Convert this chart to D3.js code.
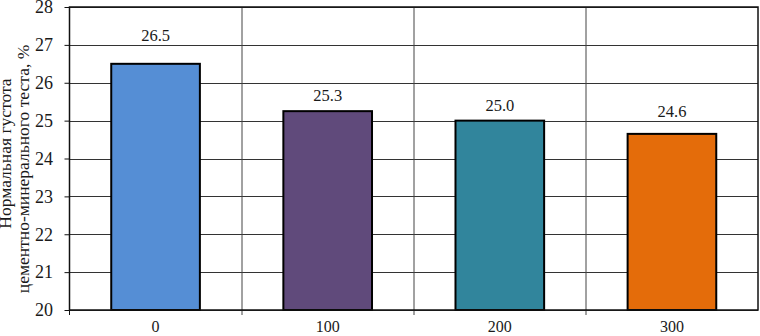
<!DOCTYPE html>
<html>
<head>
<meta charset="utf-8">
<script src="https://cdn.jsdelivr.net/npm/d3@7"></script>
<style>
  body { margin: 0; background: #fff; }
</style>
</head>
<body>
<div id="plot"></div>
<script>
// chart data
const categories = ["0", "100", "200", "300"];
const values = [26.5, 25.25, 25.0, 24.65];
const valueLabels = ["26.5", "25.3", "25.0", "24.6"];
const barColors = ["#558ed5", "#604a7b", "#31859c", "#e46c0a"];
const yTicks = [20, 21, 22, 23, 24, 25, 26, 27, 28];
const titleLines = ["Нормальная густота", "цементно-минерального теста, %"];

const serif = "\"Liberation Serif\"";

const width = 760, height = 336;
const margin = { top: 7, right: 2, bottom: 26, left: 69.5 };
const innerW = width - margin.left - margin.right;
const innerH = height - margin.top - margin.bottom;

const svg = d3.select("#plot").append("svg")
    .attr("width", width)
    .attr("height", height);

const g = svg.append("g")
    .attr("transform", `translate(${margin.left},${margin.top})`);

const x = d3.scaleBand()
    .domain(categories)
    .range([0, innerW])
    .paddingInner(0)
    .paddingOuter(0);

const y = d3.scaleLinear()
    .domain([20, 28])
    .range([innerH, 0]);

// horizontal gridlines
g.append("g")
    .selectAll("line")
    .data(yTicks)
    .enter()
    .append("line")
    .attr("x1", 0)
    .attr("x2", innerW)
    .attr("y1", d => Math.round(y(d)) + 0.5)
    .attr("y2", d => Math.round(y(d)) + 0.5)
    .style("stroke", "#333")
    .style("stroke-width", 1.2);

// vertical gridlines at category boundaries
g.append("g")
    .selectAll("line")
    .data(categories.slice(1))
    .enter()
    .append("line")
    .attr("x1", d => Math.round(x(d)) + 0.5)
    .attr("x2", d => Math.round(x(d)) + 0.5)
    .attr("y1", 0)
    .attr("y2", innerH + 5)
    .style("stroke", "#444")
    .style("stroke-width", 1);

// bars
const barW = x.bandwidth() * 0.515;
g.append("g")
    .selectAll("rect")
    .data(values)
    .enter()
    .append("rect")
    .attr("x", (d, i) => x(categories[i]) + (x.bandwidth() - barW) / 2)
    .attr("y", d => y(d))
    .attr("width", barW)
    .attr("height", d => innerH - y(d))
    .style("fill", (d, i) => barColors[i])
    .style("stroke", "#000")
    .style("stroke-width", 2);

// value labels: 10px above the bar, lifted above a gridline if they would cross it
function labelBaseline(v) {
    let base = y(v) - 10;
    const top = base - 12;
    yTicks.forEach(t => {
        const gy = y(t);
        if (gy > top && gy < base + 1) base = gy - 4;
    });
    return base;
}

g.append("g")
    .selectAll("text")
    .data(values)
    .enter()
    .append("text")
    .attr("x", (d, i) => x(categories[i]) + x.bandwidth() / 2)
    .attr("y", d => labelBaseline(d))
    .attr("text-anchor", "middle")
    .style("font-family", serif)
    .style("font-size", "16.5px")
    .style("fill", "#1a1a1a")
    .text((d, i) => valueLabels[i]);

// frame
g.append("rect")
    .attr("x", 0)
    .attr("y", 0)
    .attr("width", innerW)
    .attr("height", innerH)
    .style("fill", "none")
    .style("stroke", "#111")
    .style("stroke-width", 1.5);

// y axis
const yAxis = g.append("g")
    .call(d3.axisLeft(y).tickValues(yTicks).tickSize(5).tickPadding(11.5));
yAxis.select(".domain").remove();
yAxis.selectAll("line").style("stroke", "#111");
yAxis.selectAll("text")
    .style("font-size", "18px")
    .style("font-family", serif)
    .style("fill", "#1a1a1a");

// x axis labels
g.append("g")
    .selectAll("text")
    .data(categories)
    .enter()
    .append("text")
    .attr("x", d => x(d) + x.bandwidth() / 2)
    .attr("y", innerH + 22)
    .attr("text-anchor", "middle")
    .style("font-family", serif)
    .style("font-size", "16px")
    .style("fill", "#1a1a1a")
    .text(d => d);

// tick at the left bottom corner
g.append("line")
    .attr("x1", 0).attr("x2", 0)
    .attr("y1", innerH).attr("y2", innerH + 5)
    .style("stroke", "#111");

// y axis title: two rotated lines, each with its own centre
const titlePos = [[11, 153.5], [28.5, 169]];
svg.append("g")
    .selectAll("text")
    .data(titleLines)
    .enter()
    .append("text")
    .attr("transform", (d, i) => `translate(${titlePos[i][0]},${titlePos[i][1]}) rotate(-90)`)
    .attr("text-anchor", "middle")
    .style("font-family", serif)
    .style("font-size", "17.5px")
    .style("fill", "#1a1a1a")
    .text(d => d);
</script>
</body>
</html>
